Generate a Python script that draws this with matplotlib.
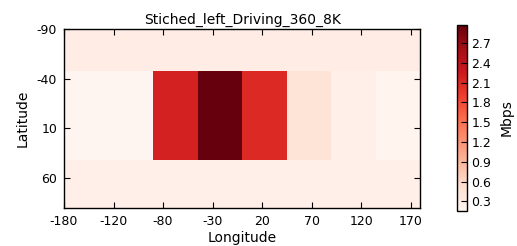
import numpy as np
import matplotlib
matplotlib.use("Agg")
from matplotlib import pyplot as plt

# cell values in Mbps, rows top->bottom, columns left->right (45 deg wide)
row_top = [0.31, 0.31, 0.31, 0.31, 0.31, 0.31, 0.31, 0.31]
row_mid = [0.16, 0.16, 2.18, 2.97, 2.10, 0.46, 0.26, 0.19]
row_bot = [0.26, 0.26, 0.26, 0.26, 0.26, 0.26, 0.26, 0.26]

col_edges = [0, 45, 90, 135, 180, 225, 270, 315, 360]
row_edges = [0, 42, 132, 180]

xtick_pos = [0, 50, 100, 150, 200, 250, 300, 350]
xtick_labels = ["-180", "-120", "-80", "-30", "20", "70", "120", "170"]
ytick_pos = [0, 50, 100, 150]
ytick_labels = ["-90", "-40", "10", "60"]
cbar_ticks = [0.3, 0.6, 0.9, 1.2, 1.5, 1.8, 2.1, 2.4, 2.7]

grid = np.array([row_top, row_mid, row_bot])

fs_tick = 9
fs_lab = 10
plt.rcParams["font.family"] = "DejaVu Sans"

fig = plt.figure(figsize=(5.17, 2.46), dpi=100)
ax = fig.add_axes([0.1238, 0.1545, 0.6895, 0.7275])
mesh = ax.pcolormesh(col_edges, row_edges, grid, cmap="Reds",
                     vmin=grid.min(), vmax=grid.max())
ax.set_xlim(0, 360)
ax.set_ylim(180, 0)
ax.set_xticks(xtick_pos)
ax.set_xticklabels(xtick_labels)
ax.set_yticks(ytick_pos)
ax.set_yticklabels(ytick_labels)
ax.tick_params(direction="in", length=4, width=0.8, top=True, right=True,
               labelsize=fs_tick, pad=5)
for sp in ax.spines.values():
    sp.set_linewidth(1.0)
ax.set_title("Stiched_left_Driving_360_8K", fontsize=fs_lab, pad=4)
ax.set_xlabel("Longitude", fontsize=fs_lab, labelpad=2)
ax.set_ylabel("Latitude", fontsize=fs_lab, labelpad=5)

cax = fig.add_axes([0.8845, 0.1435, 0.0195, 0.7545])
cb = fig.colorbar(mesh, cax=cax, ticks=cbar_ticks)
cb.ax.tick_params(direction="in", length=4, width=0.8, labelsize=fs_tick, pad=3)
cb.outline.set_linewidth(1.0)
cb.set_label("Mbps", fontsize=fs_lab, labelpad=6)

fig.savefig("out.png", dpi=100)
